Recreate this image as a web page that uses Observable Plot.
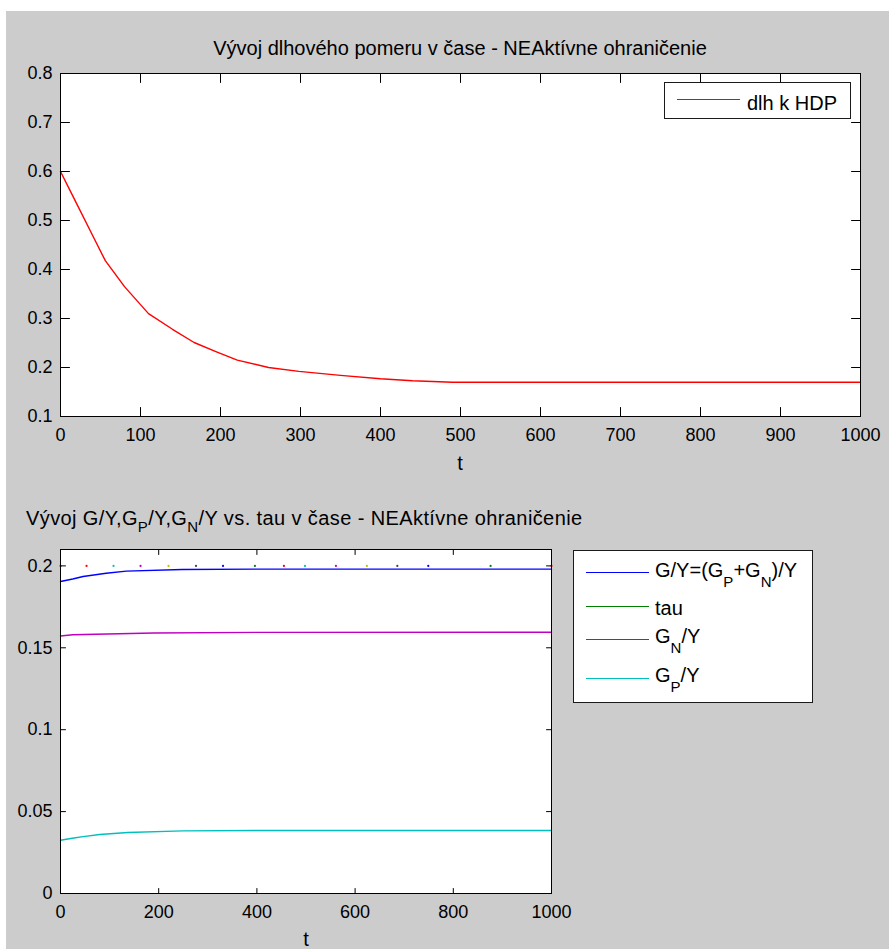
<!DOCTYPE html>
<html><head><meta charset="utf-8">
<script src="https://cdn.jsdelivr.net/npm/d3@7"></script>
<script src="https://cdn.jsdelivr.net/npm/@observablehq/plot@0.6"></script>
<style>
html,body{margin:0;padding:0;background:#fff;width:889px;height:949px;overflow:hidden;}
body{font-family:"Liberation Sans",Arial,sans-serif;color:#000;position:relative;}
#bg{position:absolute;left:6px;top:11px;width:883px;height:938px;background:#cccccc;}
.abs{position:absolute;white-space:nowrap;}
.txt{font-size:20px;line-height:20px;}
.lbox{position:absolute;background:#fff;border:1px solid #1a1a1a;box-sizing:border-box;}
.lline{position:absolute;height:0;border-top:1.6px solid;}
.sub{font-size:15px;position:relative;}
</style></head>
<body>
<div id="bg"></div>
<div id="p1" class="abs" style="left:0;top:0"></div>
<div id="p2" class="abs" style="left:0;top:480px"></div>

<div class="abs txt" style="left:460px;top:38px;transform:translateX(-50%)">Vývoj dlhového pomeru v čase - NEAktívne ohraničenie</div>
<div class="abs txt" style="left:460px;top:453px;transform:translateX(-50%)">t</div>
<div class="lbox" style="left:664px;top:82px;width:187px;height:37px"></div>
<div class="lline" style="left:677px;top:99px;width:63px;border-color:#ff0000"></div>
<div class="abs txt" style="left:747px;top:93px">dlh k HDP</div>

<div class="abs txt" style="left:26px;top:508px;letter-spacing:0.4px">Vývoj G/Y,G<span class="sub" style="top:7px">P</span>/Y,G<span class="sub" style="top:7px">N</span>/Y vs. tau v čase - NEAktívne ohraničenie</div>
<div class="abs txt" style="left:306px;top:929px;transform:translateX(-50%)">t</div>
<div class="lbox" style="left:573px;top:550px;width:240px;height:153px"></div>
<div class="lline" style="left:586px;top:572px;width:63px;border-color:#0000ff"></div>
<div class="lline" style="left:586px;top:606px;width:63px;border-color:#008000"></div>
<div class="lline" style="left:586px;top:639px;width:63px;border-color:#ff0000"></div>
<div class="lline" style="left:586px;top:678px;width:63px;border-color:#00bfbf"></div>
<div class="abs txt" style="left:655px;top:560px">G/Y=(G<span class="sub" style="top:10px">P</span>+G<span class="sub" style="top:10px">N</span>)/Y</div>
<div class="abs txt" style="left:655px;top:598px">tau</div>
<div class="abs txt" style="left:655px;top:626px">G<span class="sub" style="top:10px">N</span>/Y</div>
<div class="abs txt" style="left:655px;top:665px">G<span class="sub" style="top:10px">P</span>/Y</div>

<script>
// ---- data: top chart (debt-to-GDP ratio) ----
const t1 = [0, 20, 40, 56, 80, 110, 140, 167, 195, 221, 260, 298, 350, 400, 440, 490, 1000];
const debtRatio = [0.6, 0.535, 0.47, 0.418, 0.365, 0.31, 0.278, 0.251, 0.232, 0.215, 0.2, 0.192, 0.184, 0.177, 0.173, 0.17, 0.17];

// ---- data: bottom chart ----
const tG = [0, 25, 46, 93, 134, 248, 400, 1000];
const gY = [0.1905, 0.192, 0.1935, 0.1955, 0.1968, 0.1978, 0.198, 0.198];
const tN = [0, 25, 190, 400, 1000];
const gNY = [0.1572, 0.158, 0.159, 0.1594, 0.1595];
const tP = [0, 24, 46, 80, 137, 249, 400, 1000];
const gPY = [0.0325, 0.0337, 0.0347, 0.036, 0.0372, 0.0382, 0.0385, 0.0385];
const tTau = [0, 53, 108, 163, 220, 276, 331, 396, 455, 498, 561, 624, 686, 749, 876, 1000];
const tauVal = [0.2, 0.2, 0.2, 0.2, 0.2, 0.2, 0.2, 0.2, 0.2, 0.2, 0.2, 0.2, 0.2, 0.2, 0.2, 0.2];
const tauColors = ["#008000","#ff0000","#00bfbf","#bf00bf","#bfbf00","#404040","#0000ff","#008000","#ff0000","#00bfbf","#bf00bf","#bfbf00","#404040","#0000ff","#008000","#ff0000"];

// ---- ticks / domains ----
const xDomain = [0, 1000];
const xTicks1 = [0, 100, 200, 300, 400, 500, 600, 700, 800, 900, 1000];
const yDomain1 = [0.1, 0.8];
const yTicks1 = [0.1, 0.2, 0.3, 0.4, 0.5, 0.6, 0.7, 0.8];
const xTicks2 = [0, 200, 400, 600, 800, 1000];
const yDomain2 = [0, 0.21];
const yTicks2 = [0, 0.05, 0.1, 0.15, 0.2];

const tickShape = {draw(ctx, l) { ctx.moveTo(0, 0); ctx.lineTo(0, -l); }};
function inwardTicks(xT, yT, xD, yD, len) {
  const o = {length: len, anchor: "start", shape: tickShape, stroke: "#000", strokeWidth: 1};
  return [
    Plot.vector(xT, {...o, x: d => d, y: () => yD[0], rotate: 0}),
    Plot.vector(xT, {...o, x: d => d, y: () => yD[1], rotate: 180}),
    Plot.vector(yT, {...o, x: () => xD[0], y: d => d, rotate: 90}),
    Plot.vector(yT, {...o, x: () => xD[1], y: d => d, rotate: -90})
  ];
}
const style = {background: "transparent", fontSize: "18px", fontFamily: "'Liberation Sans', Arial, sans-serif", color: "#000", overflow: "visible"};

const debt = t1.map((t, i) => ({t, v: debtRatio[i]}));
const p1 = Plot.plot({
  width: 889, height: 480,
  marginLeft: 60, marginRight: 29, marginTop: 73, marginBottom: 64,
  x: {domain: xDomain}, y: {domain: yDomain1},
  style,
  marks: [
    Plot.frame({fill: "white"}),
    Plot.line(debt, {x: "t", y: "v", stroke: "#ff0000", strokeWidth: 1.4}),
    ...inwardTicks(xTicks1, yTicks1, xDomain, yDomain1, 9),
    Plot.frame({stroke: "#000", strokeWidth: 1}),
    Plot.axisX({ticks: xTicks1, tickSize: 0, tickPadding: 12, tickFormat: d => String(d), label: null}),
    Plot.axisY({ticks: yTicks1, tickSize: 0, tickPadding: 8, tickFormat: d => String(d), label: null})
  ]
});
document.getElementById("p1").appendChild(p1);

const gyData = tG.map((t, i) => ({t, v: gY[i]}));
const gnData = tN.map((t, i) => ({t, v: gNY[i]}));
const gpData = tP.map((t, i) => ({t, v: gPY[i]}));
const tauData = tTau.map((t, i) => ({t, v: tauVal[i], c: tauColors[i]}));
const p2 = Plot.plot({
  width: 889, height: 469,
  marginLeft: 60, marginRight: 338, marginTop: 69, marginBottom: 56,
  x: {domain: xDomain}, y: {domain: yDomain2},
  style,
  marks: [
    Plot.frame({fill: "white"}),
    Plot.line(gyData, {x: "t", y: "v", stroke: "#0000ff", strokeWidth: 1.4}),
    Plot.line(gnData, {x: "t", y: "v", stroke: "#bf00bf", strokeWidth: 1.4}),
    Plot.line(gpData, {x: "t", y: "v", stroke: "#00bfbf", strokeWidth: 1.4}),
    Plot.dot(tauData, {x: "t", y: "v", fill: d => d.c, r: 1.1}),
    ...inwardTicks(xTicks2, yTicks2, xDomain, yDomain2, 5),
    Plot.frame({stroke: "#000", strokeWidth: 1}),
    Plot.axisX({ticks: xTicks2, tickSize: 0, tickPadding: 12, tickFormat: d => String(d), label: null}),
    Plot.axisY({ticks: yTicks2, tickSize: 0, tickPadding: 8, tickFormat: d => String(d), label: null})
  ]
});
document.getElementById("p2").appendChild(p2);
</script>
</body></html>
